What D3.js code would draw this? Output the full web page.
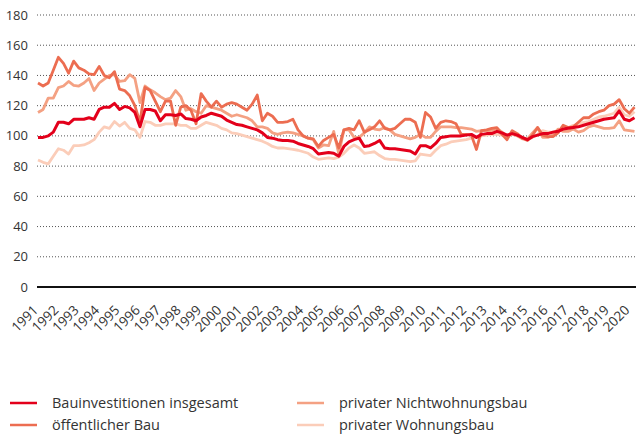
<!DOCTYPE html>
<html><head><meta charset="utf-8">
<script src="https://cdn.jsdelivr.net/npm/d3@7"></script>
<style>
html,body{margin:0;padding:0;background:#fff;}
svg{display:block;font-family:"Open Sans","Noto Sans",sans-serif;}
</style></head>
<body><svg id="c" width="639" height="438"></svg>
<script>
// ---- data (quarterly, 1991 Q1 – 2020 Q2, index) ----
const years = ["1991","1992","1993","1994","1995","1996","1997","1998","1999","2000","2001","2002","2003","2004","2005","2006","2007","2008","2009","2010","2011","2012","2013","2014","2015","2016","2017","2018","2019","2020"];
const yTicks = [0,20,40,60,80,100,120,140,160,180];
const seriesNames = ["Bauinvestitionen insgesamt","öffentlicher Bau","privater Nichtwohnungsbau","privater Wohnungsbau"];
const bau = [99,99,100,102.5,109,109,108,111,111,111,112,111,117.5,119,119,121.5,117.5,119.5,118.5,115.5,106,117.5,117.5,116.5,
110,114,114,113.5,114.5,111.5,111,110,112.5,113.5,115,114,113,110.5,109,107.5,107,106,105,104,102,99,98.5,97.5,
97,97,96.5,95,94,93,91.5,88,88.5,89,88.5,86.5,93,96,97.5,98.5,93,93.5,95,97,92,91.5,91.5,91,
90.5,90,88,93.5,93.5,92,95,99,99.5,100,100,100,100.5,101,99,101,101.5,101.5,103,102,100.5,101.5,
100.5,99,97.5,99.5,100.5,101.5,101.5,102.5,103,104.5,105,105.5,106,107,108,109,110,111,111.5,112,116.5,111,110,112];
const oeff = [135,133,135,143.5,152,148,141.5,149.5,145,143.5,141,140.5,146,140,138.5,142.5,131,130,126.5,120,109,132,130,123,
116,123,123,107,119,120,117,108,128,123,119,123,119,121,122,121,119,117,121,127,110,115,113,109,
109,109.5,111,104,100,98.5,98,93,97,99,101,92,104,105,104,110,102.5,104,106,110,105,104,105,108,
111,111,109,99,115.5,112.5,105,109,110,109.5,108,101,101,100.5,91,103.5,104,105,105.5,101,97.5,103.5,
101.5,98.5,97,100.5,105.5,100.5,99.5,99.5,102,107,105.5,106,109,112,112,114.5,116,117,120,121,124,118,115,119];
const nwb = [115.5,117.5,125,125,132,133,136,133.5,133,135,138,130,135,137.5,140,140.5,136,136.5,140.5,138,122,133,130.5,128.5,
126,124,125,130,126,117,118,116,115,120,119,118,117,115,113,114,113,112,110,106,106,105,102,101,
102,102.5,102,101,100,98.5,97.5,92,94,93.5,103,88,104,104,99,99,102,106,104.5,104,105.5,104,101,100,
99,98,99,101,99,99,103,106,106,106,105.5,105.5,105,104.5,103,103.5,103.5,103.5,105,102.5,100,102,
100,98,98,102,105.5,99,99,100.5,104.5,103,103,104.5,102.5,103.5,106,107,106,105,105,105.5,110,104,103.5,103];
const wohn = [84,82.5,81.5,86.5,91.5,90.5,88,93.5,93.5,94,95.5,97.5,102.5,106,105,109.5,106.5,109,105,104,99,109.5,109,107,
107,108,108,108,107,107,105,105,107,109,108,107,105,104,102,101.5,100.5,99.5,98.5,97.5,96.5,95,93,92,
92,91.5,91,90.5,89.5,88.5,86,84.5,85,85.5,85,86,88.5,92,94,92,88.5,89,89.5,87,85,84.5,84.5,84,
83.5,83,83.5,88,87.5,87,90.5,93.5,94.5,96,96.5,97,97.5,98.5,99,100,100.5,101,101,100.5,100,101,
100,98.5,97.5,99,101,103.5,102.5,102.5,103.5,104.5,105.5,107,107.5,109,109.5,111,112.5,113,114,115,119,114,113,116];
const colors = ["#e3001b","#ec6d51","#f4a183","#fbcdb9"];

// ---- chart ----
const svg = d3.select("#c");
const x = d3.scaleLinear().domain([0, bau.length - 1]).range([38, 634.5]);
const y = d3.scaleLinear().domain([0, 180]).range([287, 15]);
const gridX0 = 37, gridX1 = 636;

// grid lines
svg.append("g").selectAll("line").data(yTicks.filter(d => d > 0)).join("line")
  .attr("x1", gridX0).attr("x2", gridX1)
  .attr("y1", d => y(d)).attr("y2", d => y(d))
  .attr("stroke", "#555").attr("stroke-width", 1).attr("stroke-dasharray", "1,2");

// y labels
svg.append("g").selectAll("text").data(yTicks).join("text")
  .attr("x", 28).attr("y", d => y(d)).attr("dy", "0.35em")
  .attr("text-anchor", "end").attr("font-size", 13).attr("fill", "#333")
  .text(d => d);

// zero line
svg.append("line").attr("x1", gridX0).attr("x2", gridX1)
  .attr("y1", y(0)).attr("y2", y(0)).attr("stroke", "#111").attr("stroke-width", 2);

// x labels
svg.append("g").selectAll("text").data(years).join("text")
  .attr("transform", (d, i) => `translate(${x(i * 4) + 1},${y(0) + 24}) rotate(-45)`)
  .attr("text-anchor", "end").attr("font-size", 13.5).attr("fill", "#333")
  .text(d => d);

// lines
const line = d3.line().x((d, i) => x(i)).y(d => y(d));
const seriesData = [bau, oeff, nwb, wohn];
[3, 2, 1, 0].forEach(k => {
  svg.append("path").datum(seriesData[k])
    .attr("fill", "none").attr("stroke", colors[k])
    .attr("stroke-width", k === 0 ? 3 : 2.8)
    .attr("stroke-linejoin", "round")
    .attr("d", line);
});

// legend
const legPos = [[10, 403], [10, 425], [297, 403], [297, 425]];
const leg = svg.append("g").selectAll("g").data(seriesNames).join("g")
  .attr("transform", (d, i) => `translate(${legPos[i][0]},${legPos[i][1]})`);
leg.append("line").attr("x1", 0).attr("x2", 27).attr("y1", 0).attr("y2", 0)
  .attr("stroke", (d, i) => colors[i]).attr("stroke-width", 2.5);
leg.append("text").attr("x", 42).attr("dy", "0.35em")
  .attr("font-size", 14.5).attr("fill", "#333").text(d => d);
</script></body></html>
